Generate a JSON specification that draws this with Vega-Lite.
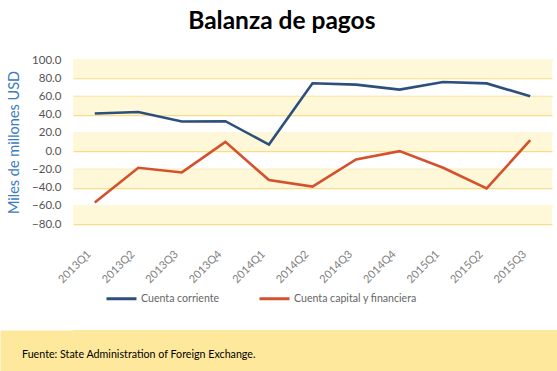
{
  "$schema": "https://vega.github.io/schema/vega-lite/v6.json",
  "padding": {"top": 8, "left": 6, "right": 0, "bottom": 0},
  "background": "white",
  "columns": 1,
  "spacing": 45,
  "title": {"text": "Balanza de pagos", "font": "Lato", "fontSize": 24.5, "fontWeight": "bold", "color": "#000000", "anchor": "middle", "frame": "bounds", "offset": 20},
  "config": {"view": {"stroke": null}, "font": "Lato"},
  "concat": [
    {
      "width": 479,
      "height": 164,
      "layer": [
        {
          "data": {"values": [
            {"lo": 80, "hi": 100}, {"lo": 40, "hi": 60}, {"lo": 0, "hi": 20}, {"lo": -40, "hi": -20}, {"lo": -80, "hi": -60}
          ]},
          "mark": {"type": "rect", "color": "#fef7d8"},
          "encoding": {
            "y": {"field": "lo", "type": "quantitative", "scale": {"domain": [-80, 100]}, "axis": {
              "values": [-80, -60, -40, -20, 0, 20, 40, 60, 80, 100], "format": ".1f", "ticks": false, "domain": false,
              "labelOverlap": false, "labelFlush": false,
              "grid": true, "gridColor": "#f8dd88", "gridWidth": 1.5, "labelColor": "#555555", "labelFontSize": 11.5, "labelPadding": 12,
              "title": "Miles de millones USD", "titleColor": "#3b7bbf", "titleFontSize": 14.5, "titleFontWeight": "normal", "titlePadding": 10
            }},
            "y2": {"field": "hi"}
          }
        },
        {
          "mark": {"type": "rule", "color": "#000000", "strokeWidth": 1.5},
          "encoding": {"y": {"datum": 0, "type": "quantitative", "axis": {
              "values": [-80, -60, -40, -20, 0, 20, 40, 60, 80, 100], "format": ".1f", "ticks": false, "domain": false,
              "labelOverlap": false, "labelFlush": false,
              "grid": true, "gridColor": "#f8dd88", "gridWidth": 1.5, "labelColor": "#555555", "labelFontSize": 11.5, "labelPadding": 12,
              "title": "Miles de millones USD", "titleColor": "#3b7bbf", "titleFontSize": 14.5, "titleFontWeight": "normal", "titlePadding": 10
            }}}
        },
        {
          "data": {"values": [
            {"q": "2013Q1", "serie": "Cuenta corriente", "v": 41.2},
            {"q": "2013Q2", "serie": "Cuenta corriente", "v": 43.0},
            {"q": "2013Q3", "serie": "Cuenta corriente", "v": 32.5},
            {"q": "2013Q4", "serie": "Cuenta corriente", "v": 32.8},
            {"q": "2014Q1", "serie": "Cuenta corriente", "v": 7.2},
            {"q": "2014Q2", "serie": "Cuenta corriente", "v": 74.5},
            {"q": "2014Q3", "serie": "Cuenta corriente", "v": 73.0},
            {"q": "2014Q4", "serie": "Cuenta corriente", "v": 67.5},
            {"q": "2015Q1", "serie": "Cuenta corriente", "v": 75.8},
            {"q": "2015Q2", "serie": "Cuenta corriente", "v": 74.3},
            {"q": "2015Q3", "serie": "Cuenta corriente", "v": 60.2},
            {"q": "2013Q1", "serie": "Cuenta capital y financiera", "v": -56.5},
            {"q": "2013Q2", "serie": "Cuenta capital y financiera", "v": -18.3},
            {"q": "2013Q3", "serie": "Cuenta capital y financiera", "v": -23.4},
            {"q": "2013Q4", "serie": "Cuenta capital y financiera", "v": 10.2},
            {"q": "2014Q1", "serie": "Cuenta capital y financiera", "v": -31.8},
            {"q": "2014Q2", "serie": "Cuenta capital y financiera", "v": -39.0},
            {"q": "2014Q3", "serie": "Cuenta capital y financiera", "v": -9.2},
            {"q": "2014Q4", "serie": "Cuenta capital y financiera", "v": 0.0},
            {"q": "2015Q1", "serie": "Cuenta capital y financiera", "v": -18.3},
            {"q": "2015Q2", "serie": "Cuenta capital y financiera", "v": -40.9},
            {"q": "2015Q3", "serie": "Cuenta capital y financiera", "v": 12.0}
          ]},
          "mark": {"type": "line", "strokeWidth": 2.6},
          "encoding": {
            "x": {"field": "q", "type": "ordinal", "scale": {"type": "point", "padding": 0.5}, "axis": {
              "title": null, "labelAngle": -45, "ticks": false, "domain": false, "grid": false,
              "labelColor": "#808080", "labelFontSize": 11, "labelPadding": 24, "labelOffset": -10
            }},
            "y": {"field": "v", "type": "quantitative", "axis": {
              "values": [-80, -60, -40, -20, 0, 20, 40, 60, 80, 100], "format": ".1f", "ticks": false, "domain": false,
              "labelOverlap": false, "labelFlush": false,
              "grid": true, "gridColor": "#f8dd88", "gridWidth": 1.5, "labelColor": "#555555", "labelFontSize": 11.5, "labelPadding": 12,
              "title": "Miles de millones USD", "titleColor": "#3b7bbf", "titleFontSize": 14.5, "titleFontWeight": "normal", "titlePadding": 10
            }},
            "color": {"field": "serie", "type": "nominal", "sort": ["Cuenta corriente", "Cuenta capital y financiera"],
              "scale": {"domain": ["Cuenta corriente", "Cuenta capital y financiera"], "range": ["#2c4f7c", "#d4512d"]},
              "legend": {"title": null, "orient": "none", "legendX": 32, "legendY": 222, "direction": "horizontal", "columns": 2,
                "symbolType": "stroke", "symbolSize": 900, "symbolStrokeWidth": 3, "columnPadding": 33,
                "labelColor": "#666666", "labelFontSize": 10.6, "labelOffset": 3}
            }
          }
        }
      ]
    },
    {
      "width": 484,
      "height": 41,
      "view": {"fill": "#fde89b", "stroke": null},
      "data": {"values": [{"fuente": "Fuente: State Administration of Foreign Exchange."}]},
      "mark": {"type": "text", "align": "left", "baseline": "middle", "dx": -51, "dy": -16, "fontSize": 10.7, "color": "#000000", "font": "Lato", "clip": false},
      "encoding": {
        "text": {"field": "fuente", "type": "nominal"},
        "x": {"datum": 0, "type": "quantitative", "scale": {"domain": [0, 1]}, "axis": null},
        "y": {"datum": 0, "type": "quantitative", "scale": {"domain": [0, 1]}, "axis": {
          "title": null, "labels": false, "ticks": false, "grid": false, "domain": true,
          "domainColor": "#fde89b", "domainWidth": 146, "domainCap": "butt"
        }}
      }
    }
  ]
}
